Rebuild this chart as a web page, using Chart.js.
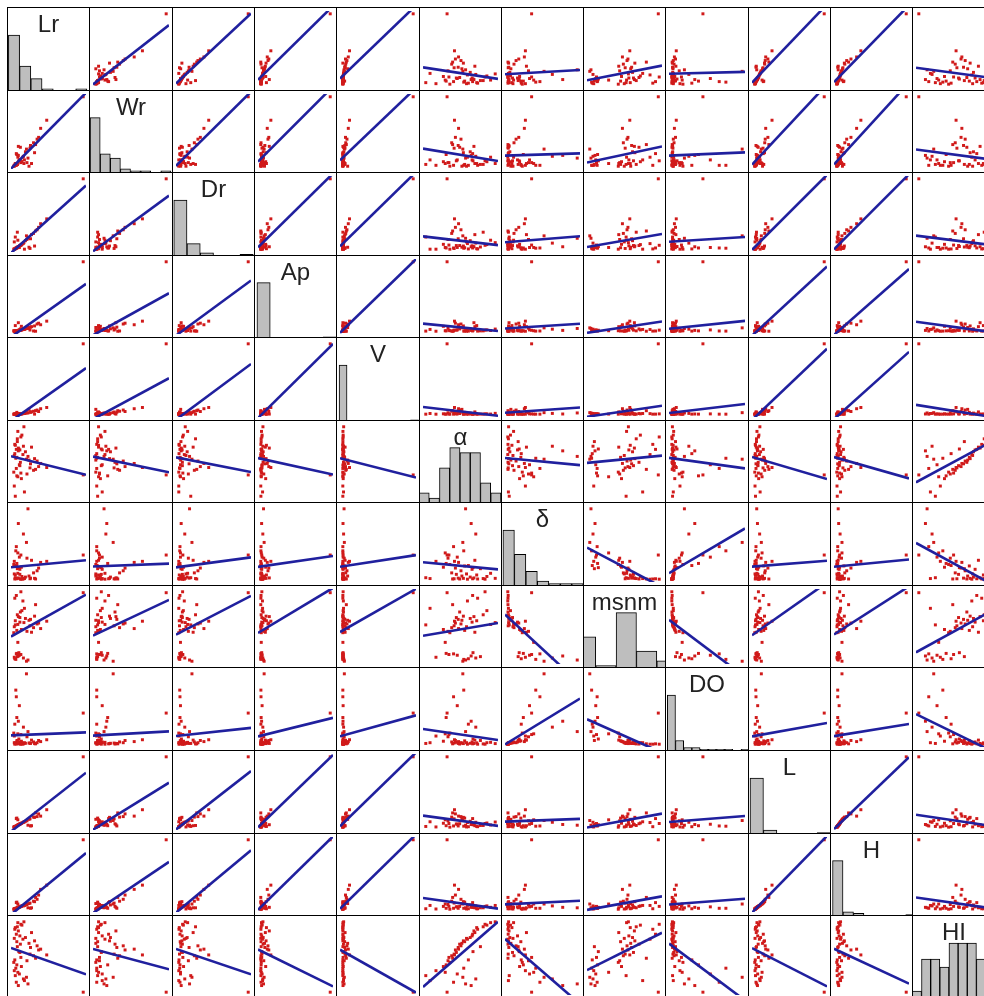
<!DOCTYPE html>
<html><head><meta charset="utf-8">
<script src="https://cdn.jsdelivr.net/npm/chart.js@4.4.1/dist/chart.umd.min.js"></script>
<style>
html,body{margin:0;padding:0;background:#fff;overflow:hidden;width:984px;height:996px;}
.cell{position:absolute;}
.cell canvas{display:block;}
</style></head><body><div id="grid"></div>
<script>
// variable names (diagonal labels)
const varNames = ['Lr','Wr','Dr','Ap','V','α','δ','msnm','DO','L','H','HI'];

// observations (47 sites); the last one is the large outlying site
const Lr    = [1.2,3.1,0.8,2.4,2.2,2.8,0.6,1.4,1.1,0.4,0.7,1.8,0.9,0.3,2.9,0.5,4.6,1.7,4.2,6.8,3.5,1.5,1.3,5.2,5.6,3.6,1.0,4.9,1.6,3.3,0.9,4.4,2.1,0.4,2.6,1.5,0.8,3.8,1.2,0.5,0.6,1.0,1.9,1.7,1.1,2.3,14];
const Wr    = [1.4,1.1,0.3,0.9,1.3,2.1,0.4,0.9,0.5,0.3,0.3,0.7,1.5,0.2,0.6,0.3,2.6,0.6,2.8,5.3,2.2,0.8,0.8,3.4,4.4,2.5,0.4,3.2,2.3,0.2,0.4,1.7,1.2,0.2,1.8,0.9,1.6,0.5,2.4,0.3,0.5,0.4,0.7,0.8,1.2,0.5,7.9];
const Dr    = [0.15,0.5,0.1,0.05,0.3,0.6,0.55,0.12,0.12,0.05,0.09,0.25,0.1,0.05,0.45,0.06,0.8,0.22,0.7,1.3,0.08,0.2,0.16,0.95,1.1,0.48,0.14,0.85,0.2,0.13,0.11,0.18,0.28,0.35,0.4,0.19,0.1,0.65,0.15,0.06,0.07,0.75,0.24,0.21,0.42,0.32,2.95];
const Ap    = [0.8,2.4,0.3,1.6,1.8,2.9,0.2,1.2,0.5,0.1,0.2,4.2,0.4,0.5,2.6,0.2,0.1,0.9,0.3,8.5,1.1,1.0,0.9,6.8,5.5,3.5,0.4,6.1,2.0,3.2,0.3,4.5,1.5,0.1,2.1,0.9,0.3,3.9,7.2,0.2,4.8,0.4,1.2,1.0,0.7,1.9,58];
const V     = [0.6,3.5,0.1,2.0,2.2,4.3,0.1,0.9,0.3,0.05,0.1,1.1,0.2,0.05,3.9,0.2,9.8,0.8,8.2,18.7,6.1,0.8,0.7,7.5,15.3,5.6,0.3,11.6,1.8,13.5,5.1,0.2,1.6,0.05,3.0,0.7,0.2,6.4,0.3,0.1,0.1,0.2,1.0,0.9,0.4,2.4,196];
const alpha = [26,23,16.5,3.8,28.5,21.5,1.5,18.5,12,7,22,11,12.5,14.5,13.5,24.5,16,14,15.5,17,16.8,18,27,17.5,19.2,19,31,20.5,19.8,21,22.5,21.8,24,23.5,25.5,26.5,26.8,28,27.5,29.5,29,32.5,34.5,33.5,36.5,39,13];
const delta = [2.7,3.4,1.6,0.08,2.2,1.8,0.12,1.1,1.3,0.9,1.4,0.62,0.8,0.75,1.05,0.7,0.06,1.2,0.35,0.9,0.07,0.28,0.6,0.58,0.85,0.1,0.55,0.45,0.06,0.2,0.68,0.09,0.05,0.3,0.15,0.52,0.07,0.95,0.11,0.06,0.25,0.08,0.18,0.05,0.33,0.09,1.2];
const msnm  = [1962,1918,1985,2480,1940,1905,2300,1970,2110,1948,1925,2250,1990,2215,2230,1932,2520,1978,2270,2340,2290,2380,1998,2320,2260,2360,1955,2310,2440,2350,2240,2395,2560,2280,2370,2330,2620,2220,2390,2590,2345,2410,2455,2660,2305,2325,2650];
const DO    = [3.2,1.8,6.5,0.3,2.4,9.6,0.2,5.3,1.5,1.2,7.4,0.5,3.7,1.6,1.1,2.8,0.15,1.4,0.4,0.7,0.25,0.35,0.8,0.6,0.45,0.2,0.6,0.3,0.12,0.25,0.55,0.18,0.1,0.3,0.22,0.4,0.15,0.65,0.2,0.1,0.28,0.14,0.3,0.1,0.35,0.18,4.3];
const L     = [1.5,1.2,0.9,2.6,2.4,3.1,0.7,1.6,3.4,0.5,0.8,2.0,1.0,0.4,3.0,0.6,6.2,1.9,4.5,7.5,3.8,1.7,1.4,5.8,4.9,0.9,1.1,4.7,1.8,3.6,4.1,4.4,2.3,0.5,2.8,1.6,3.9,1.0,1.4,0.6,0.7,1.1,2.1,1.9,1.3,2.5,29];
const H     = [0.5,0.4,0.3,0.9,0.8,1.2,0.2,0.6,1.2,0.15,0.3,0.7,0.3,0.1,1.1,0.2,2.6,0.7,1.8,5.2,1.4,0.6,0.5,3.1,4.3,0.3,0.4,2.2,0.7,1.3,1.6,1.7,0.9,0.15,1.0,0.6,1.5,0.4,0.5,0.2,0.2,0.4,0.8,0.7,0.5,0.9,14.8];
const HI    = [0.21,0.23,0.25,0.27,0.29,0.31,0.33,0.35,0.37,0.39,0.42,0.44,0.46,0.49,0.51,0.52,0.54,0.55,0.57,0.58,0.59,0.61,0.62,0.64,0.65,0.67,0.68,0.69,0.71,0.72,0.74,0.75,0.77,0.78,0.79,0.81,0.83,0.85,0.87,0.89,0.91,0.92,0.94,0.95,0.97,0.98,0.13];

// histogram bin widths for the diagonal panels
const histStep = [2,1,0.5,10,20,5,0.5,200,1,5,2,0.1];

const vars = [Lr,Wr,Dr,Ap,V,alpha,delta,msnm,DO,L,H,HI];
const N = vars.length;

const X0 = 7, Y0 = 7, PX = 82.3, PY = 82.55;
const POINT_COLOR = '#d01a1a';
const LINE_COLOR = '#20209e';

function padRange(v){
  const mn = Math.min(...v), mx = Math.max(...v);
  const d = (mx - mn) * 0.04;
  return [mn - d, mx + d];
}
function ols(x, y){
  const n = x.length;
  let mx = 0, my = 0;
  for (let i = 0; i < n; i++){ mx += x[i]; my += y[i]; }
  mx /= n; my /= n;
  let sxx = 0, sxy = 0;
  for (let i = 0; i < n; i++){ sxx += (x[i]-mx)*(x[i]-mx); sxy += (x[i]-mx)*(y[i]-my); }
  const b = sxy / sxx;
  return [my - b*mx, b];
}
function hist(v, step){
  const mn = Math.min(...v), mx = Math.max(...v);
  const start = Math.floor(mn/step + 1e-9) * step;
  const end = Math.ceil(mx/step - 1e-9) * step;
  const nb = Math.round((end - start) / step);
  const counts = new Array(nb).fill(0);
  v.forEach(val => {
    let k = Math.ceil((val - start)/step - 1e-9) - 1;
    if (k < 0) k = 0; if (k >= nb) k = nb - 1;
    counts[k]++;
  });
  return counts.map((c, i) => ({x: start + (i + 0.5) * step, y: c}));
}

const borderPlugin = {
  id: 'cellBorder',
  afterDraw(chart){
    const ctx = chart.ctx;
    ctx.save();
    ctx.strokeStyle = '#000';
    ctx.lineWidth = 1;
    ctx.strokeRect(0.5, 0.5, chart.width - 1, chart.height - 1);
    ctx.restore();
  }
};
const labelPlugin = {
  id: 'diagLabel',
  beforeDatasetsDraw(chart, args, opts){
    if (!opts || !opts.text) return;
    const ctx = chart.ctx;
    ctx.save();
    ctx.font = '24px "Liberation Sans", Arial, sans-serif';
    ctx.fillStyle = '#222';
    ctx.textAlign = 'center';
    ctx.textBaseline = 'alphabetic';
    ctx.fillText(opts.text, chart.width / 2, 25);
    ctx.restore();
  }
};

const grid = document.getElementById('grid');
const ranges = vars.map(padRange);

for (let r = 0; r < N; r++){
  for (let c = 0; c < N; c++){
    const x0 = Math.round(X0 + c*PX), x1 = Math.round(X0 + (c+1)*PX);
    const y0 = Math.round(Y0 + r*PY), y1 = Math.round(Y0 + (r+1)*PY);
    const w = x1 - x0 + 1, h = y1 - y0 + 1;
    const div = document.createElement('div');
    div.className = 'cell';
    div.style.left = x0 + 'px'; div.style.top = y0 + 'px';
    div.style.width = w + 'px'; div.style.height = h + 'px';
    const cv = document.createElement('canvas');
    cv.width = w; cv.height = h;
    cv.style.width = w + 'px'; cv.style.height = h + 'px';
    div.appendChild(cv);
    grid.appendChild(div);

    const xr = ranges[c], yr = ranges[r];
    const baseOpts = {
      responsive: false, animation: false, events: [], devicePixelRatio: 1,
      layout: {padding: 0},
      plugins: {legend: {display: false}, tooltip: {enabled: false}}
    };

    if (r === c){
      const bins = hist(vars[c], histStep[c]);
      const maxCount = Math.max(...bins.map(b => b.y));
      new Chart(cv, {
        type: 'bar',
        data: {datasets: [{
          data: bins,
          backgroundColor: '#bebebe', borderColor: '#000', borderWidth: 1,
          borderSkipped: false, barPercentage: 1, categoryPercentage: 1
        }]},
        options: Object.assign({}, baseOpts, {
          scales: {
            x: {type: 'linear', min: xr[0], max: xr[1], offset: false, display: false},
            y: {type: 'linear', min: 0, max: 1.5 * maxCount, display: false}
          },
          plugins: Object.assign({}, baseOpts.plugins, {diagLabel: {text: varNames[c]}})
        }),
        plugins: [labelPlugin, borderPlugin]
      });
    } else {
      const xs = vars[c], ys = vars[r];
      const pts = xs.map((xv, i) => ({x: xv, y: ys[i]}));
      const [a, b] = ols(xs, ys);
      new Chart(cv, {
        type: 'scatter',
        data: {datasets: [
          {type: 'line', data: [{x: xr[0], y: a + b*xr[0]}, {x: xr[1], y: a + b*xr[1]}],
           borderColor: LINE_COLOR, borderWidth: 2.6, pointRadius: 0, fill: false, tension: 0, order: 0},
          {data: pts, pointStyle: 'rect', pointRadius: 2.1, backgroundColor: POINT_COLOR,
           borderWidth: 0, order: 1}
        ]},
        options: Object.assign({}, baseOpts, {
          scales: {
            x: {type: 'linear', min: xr[0], max: xr[1], display: false},
            y: {type: 'linear', min: yr[0], max: yr[1], display: false}
          }
        }),
        plugins: [borderPlugin]
      });
    }
  }
}
</script>
</body></html>
